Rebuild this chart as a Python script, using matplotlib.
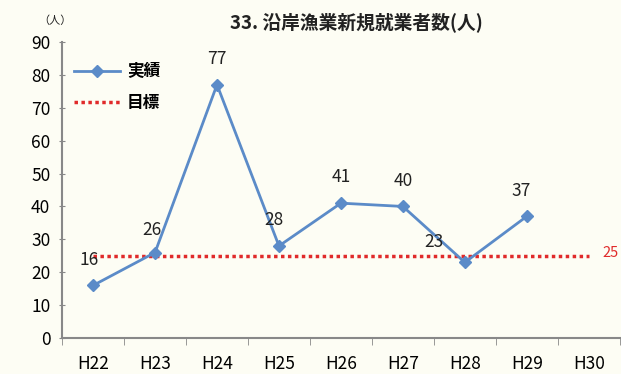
import matplotlib
matplotlib.use("Agg")
import matplotlib.pyplot as plt

plt.rcParams['font.family'] = ['Noto Sans CJK JP', 'DejaVu Sans']

years = ["H22", "H23", "H24", "H25", "H26", "H27", "H28", "H29", "H30"]
actual = [16, 26, 77, 28, 41, 40, 23, 37]
target = 25

bg = "#fdfdf4"
fig = plt.figure(figsize=(6.21, 3.74), dpi=100, facecolor=bg)
ax = fig.add_axes([0.1, 0.096, 0.898, 0.792], facecolor=bg)

x = list(range(len(years)))
ax.plot(x[:len(actual)], actual, color="#5b8bc8", lw=2, marker="D", ms=6,
        label="実績", zorder=3)
ax.plot(x, [target] * len(years), color="#e02a2a", lw=2.5, ls=(0, (1, 1)),
        label="目標", zorder=2)

# label offsets (points) so they sit like the original
offs = [(-3, 12), (-2, 10), (0, 12), (-4, 12), (0, 12), (0, 12), (-22, 8), (-4, 12)]
for i, v in enumerate(actual):
    ax.annotate(str(v), (x[i], v), xytext=offs[i], textcoords="offset points",
                ha="center", va="bottom", fontsize=12.5, color="#222222")
ax.annotate(str(target), (x[-1], target), xytext=(10, 2), textcoords="offset points",
            ha="left", va="center", fontsize=10.5, color="#e02a2a")

ax.set_xlim(-0.5, len(years) - 0.5)
ax.set_ylim(0, 90)
ax.set_yticks(range(0, 91, 10))
ax.set_xticks(x)
ax.set_xticklabels(years)
ax.set_xticks([i - 0.5 for i in range(len(years) + 1)], minor=True)
ax.tick_params(axis="x", which="major", length=0, pad=12, labelsize=12.5)
ax.tick_params(axis="x", which="minor", length=5, direction="out", color="#888888")
ax.tick_params(axis="y", length=5, direction="inout", color="#888888", labelsize=12.5, pad=6)

for s in ["top", "right"]:
    ax.spines[s].set_visible(False)
for s in ["left", "bottom"]:
    ax.spines[s].set_color("#888888")
    ax.spines[s].set_linewidth(1.5)

leg = ax.legend(loc="upper left", bbox_to_anchor=(0.0, 0.97), frameon=False,
                prop={"size": 12, "weight": "bold"}, handlelength=2.8,
                handletextpad=0.4, labelspacing=0.8, borderaxespad=0.3)

fig.text(0.574, 0.94, "33. 沿岸漁業新規就業者数(人)", ha="center", va="center",
         fontsize=13.5, fontweight="bold", color="#222222")
fig.text(0.088, 0.945, "（人）", ha="center", va="center", fontsize=8, color="#222222")

fig.savefig("out.png", dpi=100, facecolor=bg)
